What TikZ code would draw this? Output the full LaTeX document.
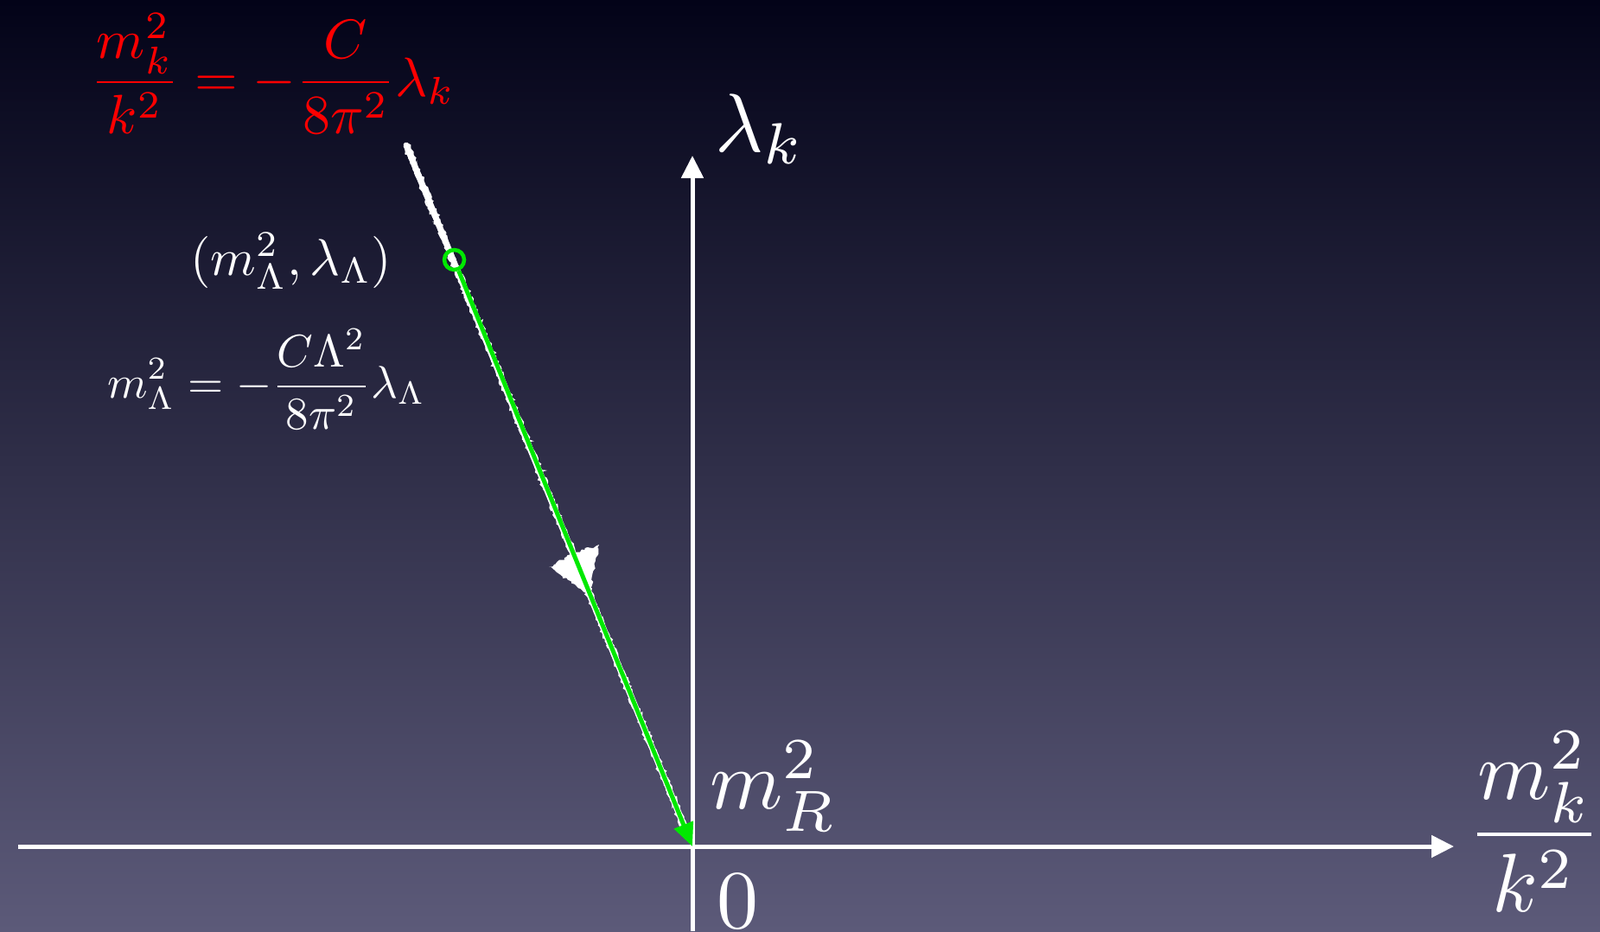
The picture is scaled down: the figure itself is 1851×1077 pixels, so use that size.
\documentclass[tikz,border=0pt]{standalone}
\usepackage{amsmath}
\usepackage{graphicx}
\usetikzlibrary{arrows.meta,decorations.pathmorphing,calc}
\definecolor{bgtop}{RGB}{3,3,24}
\definecolor{bgmid}{RGB}{34,34,64}
\definecolor{bgbot}{RGB}{92,90,121}
\definecolor{chalkgreen}{RGB}{0,232,0}
\definecolor{formred}{RGB}{255,0,0}
\newcommand{\redsz}[1]{\scalebox{6.4}{#1}}
\newcommand{\smallsz}[1]{\scalebox{6.0}{#1}}
\newcommand{\eqsz}[1]{\scalebox{5.3}{#1}}
\newcommand{\bigsz}[1]{\scalebox{9.6}{#1}}
\tikzset{
  axis/.style={white, line width=5pt, -{Triangle[length=26pt,width=25pt]}},
  flow/.style={chalkgreen, line width=5pt, -{Triangle[length=27pt,width=23pt]}},
  chalk/.style={white, line width=7pt, line cap=round},
  chalkrough/.style={white, line width=1.8pt, decorate, decoration={random steps, segment length=2.5pt, amplitude=1.8pt}},
  smallmath/.style={inner sep=0pt},
  bigmath/.style={inner sep=0pt, text=white},
  startpt/.style={circle, draw=chalkgreen, line width=4.5pt, minimum size=23pt, inner sep=0pt}
}
\begin{document}
\begin{tikzpicture}[x=1pt,y=-1pt]
\useasboundingbox (0,0) rectangle (1851,1077);
\shade[top color=bgtop, middle color=bgmid, bottom color=bgbot] (0,0) rectangle (1851,1077);

% coordinates
\coordinate (O) at (801,979);
\coordinate (xstart) at (21,979);
\coordinate (xend) at (1682,979);
\coordinate (ybot) at (801,1077);
\coordinate (ytop) at (801,180);
\coordinate (chalkA) at (470,168);
\coordinate (chalkB) at (794,962);

% axes
\draw[axis] (xstart) -- (xend);
\draw[axis] (ybot) -- (ytop);

% chalk trajectory
\draw[chalk] (chalkA) -- (chalkB);
\draw[chalkrough] ($(chalkA)+(-2.5,1)$) -- ($(chalkB)+(-2.5,1)$);
\draw[chalkrough] ($(chalkA)+(2.5,-1)$) -- ($(chalkB)+(2.5,-1)$);
% chalk arrowhead
\fill[white, decorate, decoration={random steps, segment length=3pt, amplitude=1.6pt}]
  (693,630) -- (682,688) -- (635,656) -- (661,641) -- cycle;

% starting point and flow
\node[startpt] (start) at (525.5,300.5) {};
\draw[flow] (start) -- (O);

% labels
\node[smallmath, text=formred, anchor=base west] (redeq) at (104,111)
  {\redsz{$\displaystyle \frac{m_k^2}{k^2}=-\frac{C}{8\pi^2}\lambda_k$}};
\node[smallmath, text=white, anchor=base west] (initpt) at (220,318)
  {\smallsz{$(m_\Lambda^2,\lambda_\Lambda)$}};
\node[smallmath, text=white, anchor=base west] (initeq) at (124,460)
  {\eqsz{$\displaystyle m_\Lambda^2=-\frac{C\Lambda^2}{8\pi^2}\lambda_\Lambda$}};
\node[bigmath, anchor=base west] (ylab) at (827,175) {\bigsz{$\lambda_k$}};
\node[bigmath, anchor=base west] (mR) at (821,935) {\bigsz{$m_R^2$}};
\node[bigmath, anchor=base] (zero) at (853,1073) {\bigsz{$0$}};
\node[bigmath, anchor=base] (xlab) at (1775,989) {\bigsz{$\displaystyle\frac{m_k^2}{k^2}$}};
\end{tikzpicture}
\end{document}
